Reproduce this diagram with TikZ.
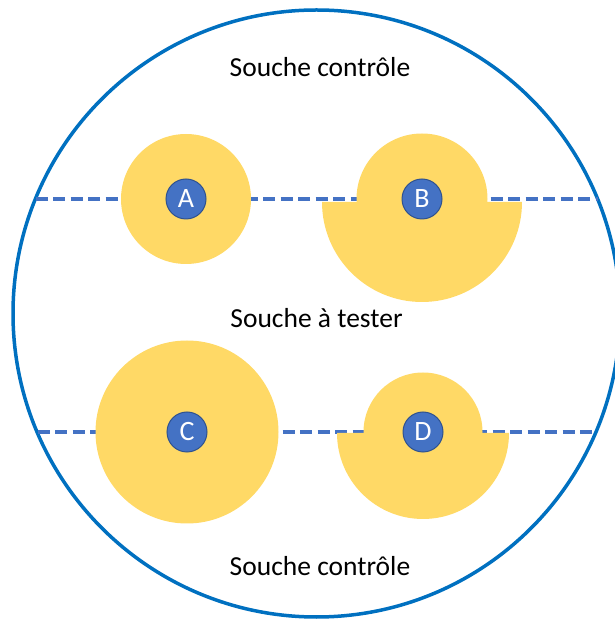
\documentclass[tikz,border=0pt]{standalone}
\usepackage{xcolor}
\usepackage{fontspec}
\setmainfont{Carlito}
\usetikzlibrary{positioning}
\definecolor{colorBoite}{HTML}{0070C0}
\definecolor{colorHalo}{HTML}{FFD966}
\definecolor{colorPuits}{HTML}{4472C4}
\definecolor{colorBord}{HTML}{2F528F}
\definecolor{colorTrait}{HTML}{4472C4}

\begin{document}
\begin{tikzpicture}[x=1pt,y=1pt,every node/.append style={align=center,font=\fontsize{27.5}{32}\selectfont},puits/.style={draw=colorBord, line width=1pt, fill=colorPuits, text=white, circle, minimum size=40pt, inner sep=0pt, font=\fontsize{28}{32}\selectfont},trait/.style={colorTrait, line width=3.5pt, dash pattern=on 12pt off 5.5pt},halo/.style={fill=colorHalo},]
    \useasboundingbox (0,0) rectangle (615,619);
    % boite de Petri
    \draw [colorBoite, line width=3.5pt] (316.5,305.5) circle [radius=303.5pt];
    \coordinate (g1) at (35.5,420);
    \coordinate (d1) at (597.5,420);
    \coordinate (g2) at (37.5,187);
    \coordinate (d2) at (595.5,187);
    \draw [trait] (g1) -- (d1);
    \draw [trait] (g2) -- (d2);
    % halos
    \fill [halo] (186,420) circle [radius=65pt];
    \fill [halo] (422,420) circle [radius=65.5pt];
    \fill [halo] (322,417) arc [start angle=180, end angle=360, radius=100pt] -- cycle;
    \fill [halo] (187,187) circle [radius=91.5pt];
    \fill [halo] (423,187) circle [radius=59.5pt];
    \fill [halo] (337,186) arc [start angle=180, end angle=360, radius=86pt] -- cycle;
    % puits
    \node [puits] (A) at (186,420) {A};
    \node [puits] (B) at (422,420) {B};
    \node [puits] (C) at (187,187) {C};
    \node [puits] (D) at (423,187) {D};
    % souches
    \node (haut) at (320,552) {Souche contrôle};
    \node (milieu) at (316.5,301) {Souche à tester};
    \node (bas) at (320,53) {Souche contrôle};
\end{tikzpicture}
\end{document}
